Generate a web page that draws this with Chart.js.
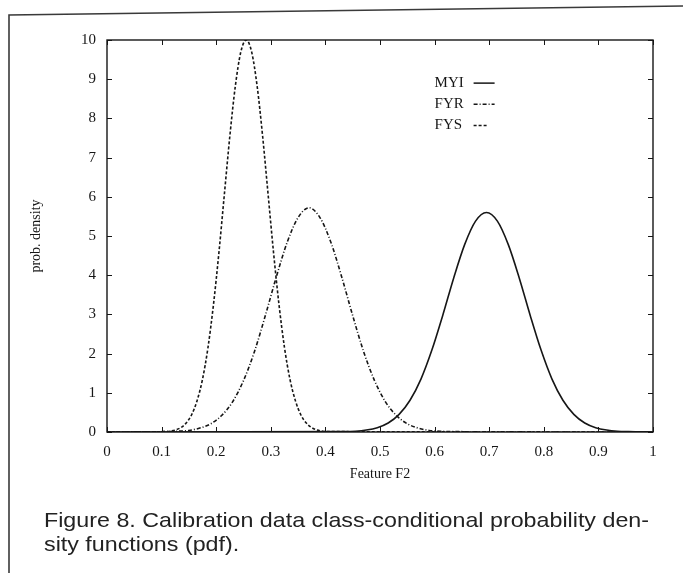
<!DOCTYPE html>
<html>
<head>
<meta charset="utf-8">
<script src="https://cdn.jsdelivr.net/npm/chart.js@4"></script>
<style>
  html, body { margin: 0; padding: 0; background: #fff; }
  #wrap { width: 683px; height: 573px; }
</style>
</head>
<body>
<div id="wrap"><canvas id="grafico" width="683" height="573"></canvas></div>
<script>
// eixos
const xTickValues = [0, 0.1, 0.2, 0.3, 0.4, 0.5, 0.6, 0.7, 0.8, 0.9, 1];
const xTickLabels = ['0', '0.1', '0.2', '0.3', '0.4', '0.5', '0.6', '0.7', '0.8', '0.9', '1'];
const yTickValues = [0, 1, 2, 3, 4, 5, 6, 7, 8, 9, 10];
const yTickLabels = ['0', '1', '2', '3', '4', '5', '6', '7', '8', '9', '10'];

// curvas
const fysX = [0, 0.105, 0.115, 0.125, 0.135, 0.145, 0.155, 0.165, 0.175, 0.185, 0.195, 0.205, 0.215, 0.225, 0.235, 0.245,
  0.255, 0.265, 0.275, 0.285, 0.295, 0.305, 0.315, 0.325, 0.335, 0.345, 0.355, 0.365, 0.375, 0.385, 0.395, 0.405, 1];
const fysY = [0, 0.01, 0.02, 0.05, 0.11, 0.23, 0.44, 0.80, 1.35, 2.16, 3.25, 4.58, 6.07, 7.55, 8.82, 9.69,
  10, 9.69, 8.82, 7.55, 6.07, 4.58, 3.25, 2.16, 1.35, 0.80, 0.44, 0.23, 0.11, 0.05, 0.02, 0.01, 0];

const fyrX = [0, 0.11, 0.13, 0.15, 0.17, 0.19, 0.21, 0.23, 0.25, 0.27, 0.29, 0.31, 0.33, 0.35,
  0.37, 0.39, 0.41, 0.43, 0.45, 0.47, 0.49, 0.51, 0.53, 0.55, 0.57, 0.59, 0.61, 0.63, 1];
const fyrY = [0, 0.01, 0.02, 0.04, 0.10, 0.21, 0.42, 0.77, 1.31, 2.05, 2.97, 3.95, 4.84, 5.47,
  5.72, 5.47, 4.84, 3.95, 2.97, 2.05, 1.31, 0.77, 0.42, 0.21, 0.10, 0.04, 0.02, 0.01, 0];

const myiX = [0, 0.435, 0.455, 0.475, 0.495, 0.515, 0.535, 0.555, 0.575, 0.595, 0.615, 0.635, 0.655, 0.675,
  0.695, 0.715, 0.735, 0.755, 0.775, 0.795, 0.815, 0.835, 0.855, 0.875, 0.895, 0.915, 0.935, 0.955, 1];
const myiY = [0, 0.01, 0.02, 0.05, 0.11, 0.23, 0.45, 0.81, 1.35, 2.09, 2.98, 3.93, 4.78, 5.38,
  5.60, 5.38, 4.78, 3.93, 2.98, 2.09, 1.35, 0.81, 0.45, 0.23, 0.11, 0.05, 0.02, 0.01, 0];

const seriesNames = ['MYI', 'FYR', 'FYS'];
const captionLines = [
  'Figure 8. Calibration data class-conditional probability den-',
  'sity functions (pdf).'
];

const tinta = '#161616';
const serif = "'Liberation Serif', 'DejaVu Serif', serif";

function pontos(xs, ys) {
  return xs.map((x, i) => ({ x: x, y: ys[i] }));
}

function linha(ctx, x1, y1, x2, y2) {
  ctx.beginPath();
  ctx.moveTo(x1, y1);
  ctx.lineTo(x2, y2);
  ctx.stroke();
}

const molduraPlugin = {
  id: 'moldura',
  afterDraw(chart) {
    const ctx = chart.ctx;
    const area = chart.chartArea;
    const sx = chart.scales.x;
    const sy = chart.scales.y;
    ctx.save();

    // caixa do gráfico e marcas internas
    ctx.strokeStyle = tinta;
    ctx.lineWidth = 1.4;
    ctx.setLineDash([]);
    ctx.strokeRect(area.left, area.top, area.right - area.left, area.bottom - area.top);
    ctx.lineWidth = 1;
    xTickValues.forEach((v) => {
      const px = Math.round(sx.getPixelForValue(v)) + 0.5;
      linha(ctx, px, area.bottom, px, area.bottom - 5);
      linha(ctx, px, area.top, px, area.top + 5);
    });
    yTickValues.forEach((v) => {
      const py = Math.round(sy.getPixelForValue(v)) + 0.5;
      linha(ctx, area.left, py, area.left + 5, py);
      linha(ctx, area.right, py, area.right - 5, py);
    });

    // legenda dentro da área
    ctx.font = '15px ' + serif;
    ctx.fillStyle = tinta;
    ctx.textBaseline = 'middle';
    ctx.textAlign = 'left';
    const legX = sx.getPixelForValue(0.6);
    const legLen = [21, 21, 13];
    chart.data.datasets.forEach((ds, i) => {
      const ly = sy.getPixelForValue(8.9 - i * 0.54);
      ctx.fillText(ds.label, legX, ly);
      ctx.lineWidth = 1.5;
      ctx.setLineDash(ds.borderDash || []);
      linha(ctx, legX + 39, ly, legX + 39 + legLen[i], ly);
    });
    ctx.setLineDash([]);

    // moldura da página
    ctx.strokeStyle = '#3a3a3a';
    ctx.lineWidth = 1.6;
    ctx.beginPath();
    ctx.moveTo(9, 573);
    ctx.lineTo(9, 15);
    ctx.lineTo(683, 6);
    ctx.stroke();

    // legenda da figura
    ctx.fillStyle = '#222';
    ctx.font = "21px 'Liberation Sans Narrow', 'Liberation Sans', Arial, sans-serif";
    ctx.textBaseline = 'middle';
    const largura = ctx.measureText(captionLines[0]).width;
    const fator = 605 / largura;
    captionLines.forEach((txt, i) => {
      ctx.save();
      ctx.translate(44, 521 + i * 24);
      ctx.scale(fator, 1);
      ctx.fillText(txt, 0, 0);
      ctx.restore();
    });
    ctx.restore();
  }
};

function renderGrafico() {
  const ctx = document.getElementById('grafico');
  const estilo = {
    borderColor: tinta,
    borderWidth: 1.6,
    pointRadius: 0,
    fill: false,
    cubicInterpolationMode: 'monotone'
  };

  new Chart(ctx, {
    type: 'line',
    data: {
      datasets: [
        Object.assign({ label: seriesNames[0], data: pontos(myiX, myiY) }, estilo),
        Object.assign({ label: seriesNames[1], data: pontos(fyrX, fyrY), borderDash: [4, 2, 1, 2] }, estilo),
        Object.assign({ label: seriesNames[2], data: pontos(fysX, fysY), borderDash: [3, 2] }, estilo)
      ]
    },
    options: {
      responsive: false,
      animation: false,
      devicePixelRatio: 1,
      layout: { padding: { left: 28, top: 40, right: 30, bottom: 90 } },
      plugins: {
        legend: { display: false },
        tooltip: { enabled: false }
      },
      scales: {
        x: {
          type: 'linear',
          min: 0,
          max: 1,
          afterBuildTicks: (scale) => { scale.ticks = xTickValues.map((v) => ({ value: v })); },
          afterFit: (scale) => { scale.height = 51; },
          grid: { display: false },
          border: { display: false },
          ticks: {
            autoSkip: false,
            maxRotation: 0,
            padding: 3,
            color: tinta,
            font: { family: serif, size: 15 },
            callback: (v, i) => xTickLabels[i]
          },
          title: {
            display: true,
            text: 'Feature F2',
            color: tinta,
            padding: 0,
            font: { family: serif, size: 14 }
          }
        },
        y: {
          type: 'linear',
          min: 0,
          max: 10,
          afterBuildTicks: (scale) => { scale.ticks = yTickValues.map((v) => ({ value: v })); },
          afterFit: (scale) => { scale.width = 79; },
          grid: { display: false },
          border: { display: false },
          ticks: {
            autoSkip: false,
            padding: 3,
            color: tinta,
            font: { family: serif, size: 15 },
            callback: (v, i) => yTickLabels[i]
          },
          title: {
            display: true,
            text: 'prob. density',
            color: tinta,
            padding: 0,
            font: { family: serif, size: 14 }
          }
        }
      }
    },
    plugins: [molduraPlugin]
  });
}

renderGrafico();
</script>
</body>
</html>
